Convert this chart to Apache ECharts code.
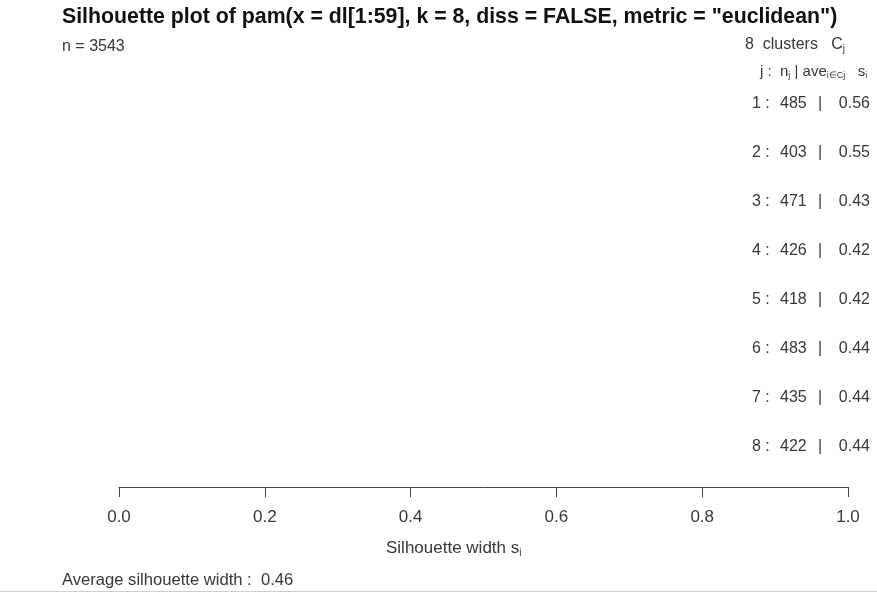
<!DOCTYPE html>
<html><head><meta charset="utf-8">
<script src="https://cdn.jsdelivr.net/npm/echarts@6/dist/echarts.min.js"></script>
<style>html,body{margin:0;padding:0;background:#fff}#c{width:877px;height:594px}</style>
</head><body><div id="c"></div>
<script>
const titleText = 'Silhouette plot of pam(x = dl[1:59], k = 8, diss = FALSE, metric = "euclidean")';
const nTotal = 3543;
const nClusters = 8;
const clusterIds = [1, 2, 3, 4, 5, 6, 7, 8];
const clusterSizes = [485, 403, 471, 426, 418, 483, 435, 422];
const clusterAvg = [0.56, 0.55, 0.43, 0.42, 0.42, 0.44, 0.44, 0.44];
const xTicks = [0.0, 0.2, 0.4, 0.6, 0.8, 1.0];
const avgWidth = 0.46;

const FONT = '"Liberation Sans", Arial, sans-serif';
const TXT = '#383838';

const chart = echarts.init(document.getElementById('c'), null, {renderer: 'canvas'});
const catLabels = clusterIds.map((id, i) => '{a|' + id + ' :}{b|' + clusterSizes[i] + '}{c||}{d|' + clusterAvg[i].toFixed(2) + '}');
const lab = {fontFamily: FONT, fontSize: 16, color: TXT};

chart.setOption({
  animation: false,
  backgroundColor: '#fff',
  grid: {left: 119, right: 29, top: 79.5, bottom: 122.5, containLabel: false},
  xAxis: {
    type: 'value', min: xTicks[0], max: xTicks[xTicks.length - 1], interval: 0.2, position: 'bottom', offset: 15.5,
    axisLine: {show: true, lineStyle: {color: '#444', width: 1}},
    axisTick: {show: true, length: 10, lineStyle: {color: '#444'}},
    axisLabel: {margin: 22, color: TXT, fontFamily: FONT, fontSize: 17,
      formatter: v => v.toFixed(1)},
    splitLine: {show: false}
  },
  yAxis: {
    type: 'category', data: catLabels, inverse: true, position: 'right', offset: 24,
    axisLine: {show: false}, axisTick: {show: false}, splitLine: {show: false},
    axisLabel: {inside: true, margin: 2, color: TXT, fontFamily: FONT, fontSize: 16, align: 'right',
      rich: {
        a: Object.assign({width: 28, align: 'left'}, lab),
        b: Object.assign({width: 38, align: 'left'}, lab),
        c: Object.assign({width: 8, align: 'left'}, lab),
        d: Object.assign({width: 44, align: 'right'}, lab)
      }}
  },
  series: [],
  graphic: [
    {type: 'text', left: 62, top: 7, style: {text: titleText, font: 'bold 21.3px ' + FONT, fill: '#111'}},
    {type: 'text', left: 62, top: 39, style: {text: 'n = ' + nTotal, font: '16px ' + FONT, fill: TXT}},
    {type: 'text', left: 745, top: 37, style: {
      text: nClusters + '  clusters   C{sub|j}',
      font: '16px ' + FONT, fill: TXT,
      rich: {sub: {fontSize: 10, fontFamily: FONT, fill: TXT, padding: [9, 0, 0, 0]}}
    }},
    {type: 'text', left: 760, top: 64, style: {
      text: 'j :  n{sub|j} | ave{sub|i∈Cj}   s{sub|i}',
      font: '15px ' + FONT, fill: TXT,
      rich: {sub: {fontSize: 9, fontFamily: FONT, fill: TXT, padding: [8, 0, 0, 0]}}
    }},
    {type: 'text', left: 386, top: 540, style: {
      text: 'Silhouette width s{sub|i}', font: '17px ' + FONT, fill: TXT,
      rich: {sub: {fontSize: 10, fontFamily: FONT, fill: TXT, padding: [9, 0, 0, 0]}}
    }},
    {type: 'text', left: 62, top: 572, style: {text: 'Average silhouette width :  ' + avgWidth.toFixed(2), font: '16.6px ' + FONT, fill: TXT}},
    {type: 'line', shape: {x1: 0, y1: 591.5, x2: 877, y2: 591.5}, style: {stroke: '#cfcfcf', lineWidth: 1}}
  ]
});
</script></body></html>
